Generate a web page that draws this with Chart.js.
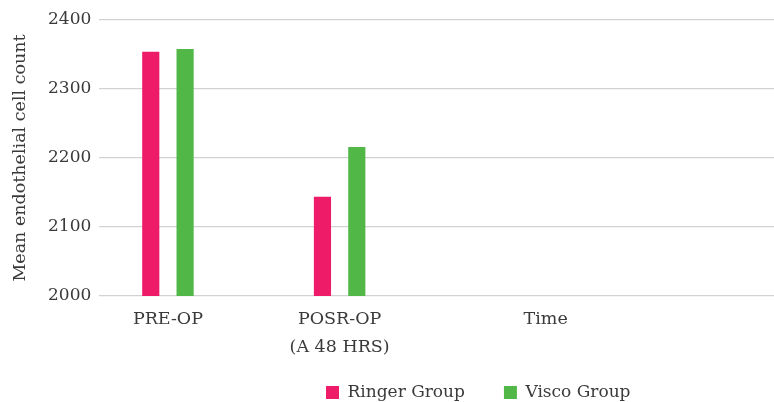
<!DOCTYPE html>
<html lang="en">
<head>
    <meta charset="UTF-8">
    <title>Mean endothelial cell count</title>
    <script src="https://cdn.jsdelivr.net/npm/chart.js"></script>
    <style>
        body {
            margin: 0;
            padding: 0;
            background: #ffffff;
        }
        .chart-box {
            width: 774px;
            height: 402px;
        }
    </style>
</head>
<body>
    <div class="chart-box">
        <canvas id="cellChart"></canvas>
    </div>

    <script>
        // Dados
        const categories = ['PRE-OP', ['POSR-OP', '(A 48 HRS)']];
        const ringerGroup = [2354, 2144];
        const viscoGroup = [2358, 2216];
        const tickLabels = ['PRE-OP', ['POSR-OP', '(A 48 HRS)'], 'Time'];
        const tickValues = [0, 1, 2.2];
        const yTicks = [2000, 2100, 2200, 2300, 2400];

        const textColor = '#3a3a3a';
        const serif = "'DejaVu Serif', serif";

        // legenda deslocada como no original
        const legendShift = {
            id: 'legendShift',
            afterLayout(chart) {
                const lg = chart.legend;
                lg.left = 287;
                lg.right = 774;
                lg.top = 345;
                lg.bottom = 402;
            }
        };

        const ctx = document.getElementById('cellChart').getContext('2d');
        new Chart(ctx, {
            type: 'bar',
            data: {
                datasets: [
                    {
                        label: 'Ringer Group',
                        data: ringerGroup.map((v, i) => ({ x: i, y: v })),
                        backgroundColor: '#ED1B68'
                    },
                    {
                        label: 'Visco Group',
                        data: viscoGroup.map((v, i) => ({ x: i, y: v })),
                        backgroundColor: '#51B848'
                    }
                ]
            },
            options: {
                responsive: true,
                maintainAspectRatio: false,
                animation: false,
                categoryPercentage: 0.4,
                barPercentage: 0.5,
                layout: {
                    padding: { top: 20, left: 0, right: 0, bottom: 4 }
                },
                plugins: {
                    tooltip: { enabled: false },
                    legend: {
                        position: 'bottom',
                        align: 'start',
                        maxHeight: 28,
                        labels: {
                            boxWidth: 13,
                            boxHeight: 13,
                            padding: 39,
                            color: textColor,
                            font: { family: serif, size: 17 }
                        }
                    }
                },
                scales: {
                    x: {
                        type: 'linear',
                        min: -0.4,
                        max: 3.53,
                        offset: false,
                        grid: { display: false, drawTicks: false },
                        border: { display: false },
                        afterBuildTicks: axis => {
                            axis.ticks = tickValues.map(v => ({ value: v }));
                        },
                        ticks: {
                            autoSkip: false,
                            maxRotation: 0,
                            padding: 9,
                            color: textColor,
                            font: { family: serif, size: 17.5, lineHeight: 1.6 },
                            callback: (value, index) => tickLabels[index]
                        }
                    },
                    y: {
                        min: 2000,
                        max: 2400,
                        afterBuildTicks: axis => {
                            axis.ticks = yTicks.map(v => ({ value: v }));
                        },
                        grid: { color: '#d2d2d2', lineWidth: 1.2, drawTicks: false },
                        border: { display: false },
                        ticks: {
                            padding: 8,
                            color: textColor,
                            font: { family: serif, size: 17 },
                            callback: value => String(value)
                        },
                        title: {
                            display: true,
                            text: 'Mean endothelial cell count',
                            color: textColor,
                            padding: { top: 10, bottom: 9 },
                            font: { family: serif, size: 17.5 }
                        }
                    }
                }
            },
            plugins: [legendShift]
        });
    </script>
</body>
</html>
